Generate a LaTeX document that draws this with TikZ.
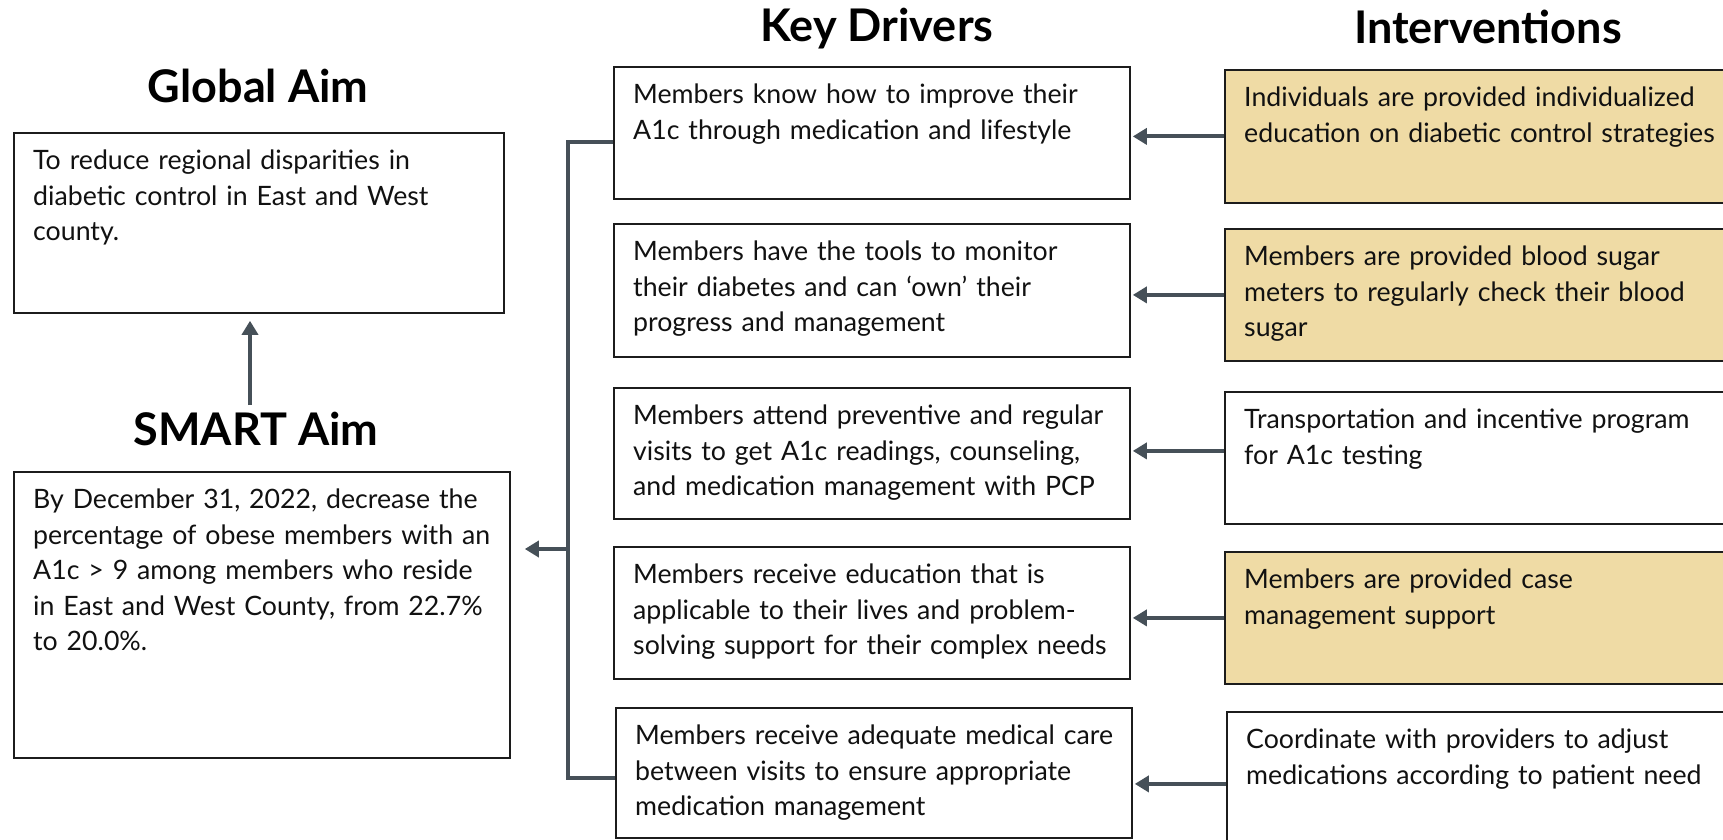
\documentclass[tikz,border=0pt]{standalone}
\usepackage{fontspec}
\setmainfont{Lato}
\usetikzlibrary{arrows.meta}

\definecolor{tanfill}{HTML}{EFDBA5}
\definecolor{linkgray}{HTML}{465058}
\definecolor{edgeblack}{HTML}{1C1C1C}
\definecolor{inkblack}{HTML}{111111}

\tikzset{
  frame/.style={draw=edgeblack, line width=1.8pt, anchor=north west, inner sep=0pt},
  bodytext/.style={anchor=base west, inner sep=0pt, text width=640pt, align=left,
    text=inkblack, font=\fontsize{26.7}{35.5}\selectfont},
  heading/.style={anchor=base, inner sep=0pt, text=black,
    font=\fontsize{45}{50}\selectfont\bfseries},
  link/.style={draw=linkgray, line width=4pt, line cap=butt, line join=miter},
  arr/.style={link, -{Triangle[length=14pt,width=16pt]}},
}

% \panel{name}{left}{top}{width}{height}{fill}{text}
\newcommand{\panel}[7]{%
  \node[frame, minimum width=#4pt, minimum height=#5pt, fill=#6] (#1) at (#2pt,-#3pt) {};
  \node[bodytext] (#1-txt) at ([xshift=20pt,yshift=-37.5pt]#1.north west) {#7};
}

\begin{document}
\begin{tikzpicture}[x=1pt,y=1pt]
  \useasboundingbox (0,0) rectangle (1723,-839);
  \clip (0,0) rectangle (1723,-839);
  \fill[white] (0,0) rectangle (1723,-839);

  % column headings
  \node[heading] (gtitle) at (258,-102) {Global Aim};
  \node[heading] (stitle) at (256,-445) {SMART Aim};
  \node[heading] (ktitle) at (877,-41) {Key Drivers};
  \node[heading] (ititle) at (1488,-43) {Interventions};

  % aims
  \panel{glob}{13}{132}{490}{180}{white}{To reduce regional disparities in\\diabetic control in East and West\\county.}
  \panel{smart}{13}{471}{496}{286}{white}{By December 31, 2022, decrease the\\percentage of obese members with an\\A1c > 9 among members who reside\\in East and West County, from 22.7\%\\to 20.0\%.}

  % key drivers
  \panel{kd1}{613}{66}{516}{132}{white}{Members know how to improve their\\A1c through medication and lifestyle}
  \panel{kd2}{613}{223}{516}{133}{white}{Members have the tools to monitor\\their diabetes and can ‘own’ their\\progress and management}
  \panel{kd3}{613}{387}{516}{131}{white}{Members attend preventive and regular\\visits to get A1c readings, counseling,\\and medication management with PCP}
  \panel{kd4}{613}{546}{516}{132}{white}{Members receive education that is\\applicable to their lives and problem-\\solving support for their complex needs}
  \panel{kd5}{615}{707}{516}{130}{white}{Members receive adequate medical care\\between visits to ensure appropriate\\medication management}

  % interventions
  \panel{iv1}{1224}{69}{530}{133}{tanfill}{Individuals are provided individualized\\education on diabetic control strategies}
  \panel{iv2}{1224}{228}{530}{132}{tanfill}{Members are provided blood sugar\\meters to regularly check their blood\\sugar}
  \panel{iv3}{1224}{391}{530}{132}{white}{Transportation and incentive program\\for A1c testing}
  \panel{iv4}{1224}{551}{530}{132}{tanfill}{Members are provided case\\management support}
  \panel{iv5}{1226}{711}{530}{150}{white}{Coordinate with providers to adjust\\medications according to patient need}

  % interventions feed the key drivers
  \draw[arr, shorten >=2pt] (iv1.west) -- (iv1.west -| kd1.east);
  \draw[arr, shorten >=2pt] (iv2.west) -- (iv2.west -| kd2.east);
  \draw[arr, shorten >=2pt] ([yshift=7pt]iv3.west) -- ([yshift=7pt]iv3.west -| kd3.east);
  \draw[arr, shorten >=2pt] (iv4.west) -- (iv4.west -| kd4.east);
  \draw[arr, shorten >=2pt] ([yshift=3pt]iv5.west) -- ([yshift=3pt]iv5.west -| kd5.east);

  % key drivers gather into the SMART aim
  \coordinate (ttop) at (568,-142);
  \coordinate (tbot) at (568,-778);
  \coordinate (tmid) at (568,-549);
  \draw[link] (kd1.west |- ttop) -- (ttop) -- (tbot) -- (kd5.west |- tbot);
  \draw[arr] (tmid) -- ([xshift=14pt]smart.east |- tmid);

  % SMART aim supports the global aim
  \coordinate (upfoot) at (250,-405);
  \draw[arr] (upfoot) -- ([yshift=-7pt]glob.south -| upfoot);
\end{tikzpicture}
\end{document}
